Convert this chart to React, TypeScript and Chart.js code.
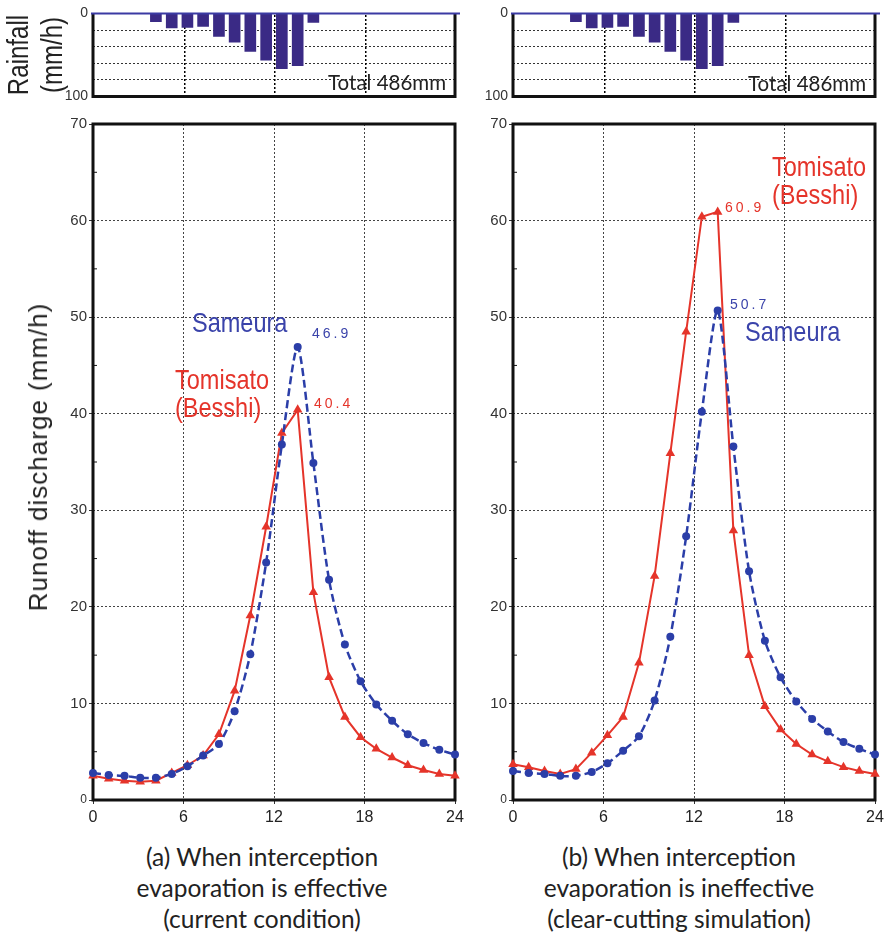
import React, { useEffect, useRef } from 'react';
import { Chart, registerables } from 'chart.js';
Chart.register(...registerables);

// ---- data (hours after rainfall start) ----
const hours = [0, 1.04, 2.09, 3.13, 4.17, 5.22, 6.26, 7.3, 8.35, 9.39, 10.43, 11.48, 12.52, 13.57, 14.61, 15.65, 16.7, 17.74, 18.78, 19.83, 20.87, 21.91, 22.96, 24];
const xTicks = [0, 6, 12, 18, 24];
const minorY = [5, 15, 25, 35, 45, 55, 65];
const rainTicks = [0, 20, 40, 60, 80, 100];

const rainHours = [4.17, 5.22, 6.26, 7.3, 8.35, 9.39, 10.43, 11.48, 12.52, 13.57, 14.61];
const rainfall = [10, 17.6, 16.9, 15.7, 27.7, 34.5, 45.7, 56.2, 66.3, 62.9, 10.9];

// (a) interception evaporation effective
const sameuraA = [2.8, 2.6, 2.5, 2.3, 2.3, 2.7, 3.5, 4.6, 5.8, 9.2, 15.1, 24.6, 36.8, 46.9, 34.9, 22.8, 16.1, 12.3, 9.9, 8.2, 6.8, 5.9, 5.2, 4.7];
const tomisatoA = [2.5, 2.2, 2.0, 1.9, 2.0, 2.8, 3.6, 4.6, 6.8, 11.3, 19.1, 28.3, 38.0, 40.4, 21.5, 12.7, 8.6, 6.5, 5.3, 4.4, 3.6, 3.1, 2.7, 2.5];
// (b) interception evaporation ineffective
const sameuraB = [3.0, 2.8, 2.7, 2.5, 2.5, 2.9, 3.8, 5.1, 6.6, 10.3, 16.9, 27.3, 40.2, 50.7, 36.6, 23.7, 16.5, 12.7, 10.2, 8.4, 7.1, 6.0, 5.3, 4.7];
const tomisatoB = [3.7, 3.4, 3.0, 2.7, 3.2, 4.9, 6.7, 8.6, 14.2, 23.2, 35.9, 48.5, 60.4, 60.9, 27.9, 15.0, 9.7, 7.3, 5.8, 4.7, 4.0, 3.4, 3.0, 2.7];

const RED = '#e5342a';
const BLUE = '#2b3ea8';
const TXT_BLUE = '#3a43aa';
const BAR = '#3a2a85';
const SANS = "'Liberation Sans', Arial, sans-serif";
const HUMAN = "Lato, 'Open Sans', sans-serif";

const mainFrame = {
  id: 'mainFrame',
  beforeDatasetsDraw(chart: any) {
    const { ctx, chartArea: a, scales } = chart;
    ctx.save();
    ctx.strokeStyle = '#111';
    ctx.lineWidth = 3;
    ctx.strokeRect(a.left, a.top, a.right - a.left, a.bottom - a.top);
    ctx.lineWidth = 1;
    for (const v of minorY) {
      const y = scales.y.getPixelForValue(v);
      ctx.beginPath();
      ctx.moveTo(a.left, y);
      ctx.lineTo(a.left + 4, y);
      ctx.stroke();
    }
    ctx.restore();
  },
};

const rainFrame = {
  id: 'rainFrame',
  beforeDatasetsDraw(chart: any) {
    const { ctx, chartArea: a } = chart;
    ctx.save();
    // vertical dotted grid lines at 6, 12, 18 h
    ctx.fillStyle = '#000';
    for (let i = 1; i < xTicks.length - 1; i++) {
      const x = Math.round(a.left + ((a.right - a.left) * xTicks[i]) / 24);
      for (let y = Math.ceil(a.top) + 1; y < a.bottom - 1; y += 4) {
        ctx.fillRect(x, y, 1.5, 2);
      }
    }
    ctx.restore();
  },
  afterDatasetsDraw(chart: any) {
    const { ctx, chartArea: a } = chart;
    ctx.save();
    ctx.strokeStyle = '#111';
    ctx.lineWidth = 3;
    ctx.beginPath();
    ctx.moveTo(a.left, a.top);
    ctx.lineTo(a.left, a.bottom);
    ctx.lineTo(a.right, a.bottom);
    ctx.lineTo(a.right, a.top);
    ctx.stroke();
    ctx.strokeStyle = '#3b3aa3';
    ctx.lineWidth = 2;
    ctx.beginPath();
    ctx.moveTo(a.left - 2, a.top);
    ctx.lineTo(a.right + 5, a.top);
    ctx.stroke();
    ctx.restore();
  },
};

function mainConfig(sam: number[], tom: number[], yWidth: number, padRight: number): any {
  return {
    type: 'line',
    data: {
      datasets: [
        {
          label: 'Sameura',
          data: hours.map((h, i) => ({ x: h, y: sam[i] })),
          borderColor: BLUE,
          backgroundColor: BLUE,
          borderWidth: 2.5,
          borderDash: [8, 4],
          pointStyle: 'circle',
          pointRadius: 4,
          pointBorderWidth: 0,
          tension: 0.25,
          clip: false,
        },
        {
          label: 'Tomisato (Besshi)',
          data: hours.map((h, i) => ({ x: h, y: tom[i] })),
          borderColor: RED,
          backgroundColor: RED,
          borderWidth: 2,
          pointStyle: 'triangle',
          pointRadius: 5.5,
          pointBorderWidth: 0,
          tension: 0,
          clip: false,
        },
      ],
    },
    options: {
      animation: false,
      responsive: false,
      layout: { padding: { left: 0, right: padRight, top: 14, bottom: 10 } },
      plugins: { legend: { display: false }, tooltip: { enabled: false } },
      scales: {
        x: {
          type: 'linear',
          min: 0,
          max: 24,
          afterBuildTicks(s: any) {
            s.ticks = xTicks.map((v) => ({ value: v }));
          },
          afterFit(s: any) {
            s.height = 30;
          },
          ticks: { color: '#222', font: { family: SANS, size: 16 }, padding: 4, maxRotation: 0, autoSkip: false },
          grid: { color: '#444', lineWidth: 1, tickLength: 4, tickColor: '#333' },
          border: { display: false, dash: [2, 2] },
        },
        y: {
          min: 0,
          max: 70,
          afterFit(s: any) {
            s.width = yWidth;
          },
          ticks: {
            stepSize: 10,
            color: '#333',
            padding: 2,
            autoSkip: false,
            font: (c: any) => ({ family: SANS, size: c.tick && c.tick.value === 0 ? 12 : 15 }),
          },
          grid: { color: '#444', lineWidth: 1, tickLength: 4, tickColor: '#333' },
          border: { display: false, dash: [2, 2] },
        },
      },
    },
    plugins: [mainFrame],
  };
}

function rainConfig(yWidth: number, padRight: number): any {
  return {
    type: 'bar',
    data: {
      datasets: [
        {
          label: 'Rainfall',
          data: rainHours.map((h, i) => ({ x: h, y: rainfall[i] })),
          backgroundColor: BAR,
          borderWidth: 0,
          barThickness: 11,
        },
      ],
    },
    options: {
      animation: false,
      responsive: false,
      layout: { padding: { left: 0, right: padRight, top: 10, bottom: 11 } },
      plugins: { legend: { display: false }, tooltip: { enabled: false } },
      scales: {
        x: {
          type: 'linear',
          min: 0,
          max: 24,
          offset: false,
          afterBuildTicks(s: any) {
            s.ticks = xTicks.map((v) => ({ value: v }));
          },
          afterFit(s: any) {
            s.height = 0;
          },
          ticks: { display: false },
          grid: { display: false, offset: false },
          border: { display: false },
        },
        y: {
          reverse: true,
          min: 0,
          max: 100,
          afterBuildTicks(s: any) {
            s.ticks = rainTicks.map((v) => ({ value: v }));
          },
          afterFit(s: any) {
            s.width = yWidth;
          },
          ticks: {
            color: '#333',
            padding: 5,
            autoSkip: false,
            font: { family: SANS, size: 14 },
            callback: (v: number) => (v === 0 || v === 100 ? String(v) : ''),
          },
          grid: { color: '#333', lineWidth: 1, drawTicks: false },
          border: { display: false, dash: [2, 2] },
        },
      },
    },
    plugins: [rainFrame],
  };
}

function ChartBox({ left, top, width, height, config }: any) {
  const ref = useRef<HTMLCanvasElement>(null);
  useEffect(() => {
    const chart = new Chart(ref.current as HTMLCanvasElement, config);
    return () => chart.destroy();
  }, []);
  return (
    <canvas
      ref={ref}
      width={width}
      height={height}
      style={{ position: 'absolute', left, top, width, height }}
    />
  );
}

// text with baseline positioning (line-height 1)
function Txt({ x, base, size, color = '#222', family = SANS, sx = 1, ls = 0, children }: any) {
  const k = family === SANS ? 0.8465 : 0.887;
  return (
    <div
      style={{
        position: 'absolute',
        left: x,
        top: base - k * size,
        fontFamily: family,
        fontSize: size,
        lineHeight: 1,
        color,
        whiteSpace: 'nowrap',
        letterSpacing: ls,
        transform: `scaleX(${sx})`,
        transformOrigin: 'left top',
      }}
    >
      {children}
    </div>
  );
}

function VTxt({ cx, cy, size, sx = 1, ls = 0, children }: any) {
  return (
    <div
      style={{
        position: 'absolute',
        left: cx,
        top: cy,
        fontFamily: SANS,
        fontSize: size,
        lineHeight: 1,
        color: '#222',
        whiteSpace: 'nowrap',
        letterSpacing: ls,
        transform: `translate(-50%, -50%) rotate(-90deg) scaleX(${sx})`,
      }}
    >
      {children}
    </div>
  );
}

function Caption({ cx, base, lines }: any) {
  return (
    <div
      style={{
        position: 'absolute',
        left: cx - 200,
        width: 400,
        top: base - 25,
        fontFamily: HUMAN,
        fontSize: 24.5,
        lineHeight: '31px',
        color: '#222',
        textAlign: 'center',
      }}
    >
      {lines.map((l: string, i: number) => (
        <div key={i}>{l}</div>
      ))}
    </div>
  );
}

export default function App() {
  return (
    <div style={{ position: 'absolute', left: 0, top: 0, width: 888, height: 932, background: '#fff', overflow: 'hidden' }}>
      <ChartBox left={0} top={0} width={470} height={110} config={rainConfig(93, 15)} />
      <ChartBox left={470} top={0} width={418} height={110} config={rainConfig(43, 13)} />
      <ChartBox left={0} top={110} width={470} height={730} config={mainConfig(sameuraA, tomisatoA, 93, 15)} />
      <ChartBox left={470} top={110} width={418} height={730} config={mainConfig(sameuraB, tomisatoB, 43, 13)} />

      <VTxt cx={18} cy={55} size={29} sx={0.83}>Rainfall</VTxt>
      <VTxt cx={52} cy={55} size={29} sx={0.83}>(mm/h)</VTxt>
      <VTxt cx={38} cy={457} size={26} ls={1}>Runoff discharge (mm/h)</VTxt>

      <Txt x={328} base={90} size={20.5} family={HUMAN}>Total 486mm</Txt>
      <Txt x={748} base={91} size={20.5} family={HUMAN}>Total 486mm</Txt>

      <Txt x={192} base={333} size={28} sx={0.84} color={TXT_BLUE}>Sameura</Txt>
      <Txt x={312} base={338} size={14} ls={3} color={TXT_BLUE}>46.9</Txt>
      <Txt x={175} base={390} size={28} sx={0.84} color={RED}>Tomisato</Txt>
      <Txt x={175} base={418} size={28} sx={0.84} color={RED}>(Besshi)</Txt>
      <Txt x={314} base={408} size={14} ls={3} color={RED}>40.4</Txt>

      <Txt x={772} base={177} size={28} sx={0.84} color={RED}>Tomisato</Txt>
      <Txt x={772} base={205} size={28} sx={0.84} color={RED}>(Besshi)</Txt>
      <Txt x={725} base={212} size={14} ls={3} color={RED}>60.9</Txt>
      <Txt x={730} base={309} size={14} ls={3} color={TXT_BLUE}>50.7</Txt>
      <Txt x={745} base={342} size={28} sx={0.84} color={TXT_BLUE}>Sameura</Txt>

      <Caption cx={262} base={866} lines={['(a) When interception', 'evaporation is effective', '(current condition)']} />
      <Caption cx={679} base={866} lines={['(b) When interception', 'evaporation is ineffective', '(clear-cutting simulation)']} />
    </div>
  );
}
